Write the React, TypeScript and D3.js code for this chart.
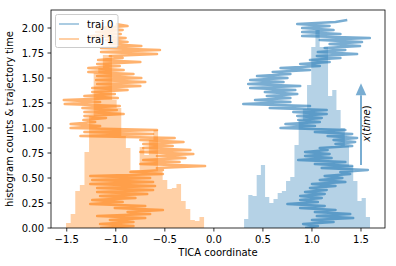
import React from 'react';
import * as d3 from 'd3';

const W = 396;
const H = 266;
const PLOT = { left: 51, right: 385, top: 10, bottom: 228 };
const X_DOMAIN = [-1.6606, 1.7447];
const Y_DOMAIN = [0, 2.18];

const xTicks = [-1.5, -1.0, -0.5, 0.0, 0.5, 1.0, 1.5];
const yTicks = [0, 0.25, 0.5, 0.75, 1.0, 1.25, 1.5, 1.75, 2.0];

// histogram of traj 0 (30 bins)
const hist0Range = [0.308, 1.592];
const hist0Counts = [
  0.09, 0.33, 0.32, 0.53, 0.63, 0.31, 0.25, 0.29, 0.35, 0.37,
  0.47, 0.51, 0.83, 1.08, 1.19, 1.43, 1.81, 1.98, 1.81, 1.81,
  1.32, 1.38, 1.18, 1.0, 0.82, 0.62, 0.47, 0.27, 0.3, 0.11,
];

// histogram of traj 1 (30 bins)
const hist1Range = [-1.507, -0.1];
const hist1Counts = [
  0.05, 0.14, 0.37, 0.43, 0.76, 1.12, 1.55, 1.6, 1.73, 1.73,
  1.28, 1.2, 0.92, 0.8, 0.58, 0.58, 0.81, 0.73, 0.88, 0.98,
  0.57, 0.48, 0.39, 0.4, 0.44, 0.27, 0.19, 0.08, 0.07, 0.11,
];

const trajDt = 0.02;
const traj0 = [
  0.93, 1.06, 0.91, 1.22, 1.0, 1.42, 1.05, 1.39, 1.03, 1.24,
  0.88, 1.13, 0.75, 1.06, 0.88, 1.1, 0.88, 1.13, 0.93, 1.15,
  0.98, 1.24, 1.0, 1.34, 1.08, 1.31, 1.13, 1.39, 1.29, 1.57,
  1.1, 1.41, 1.03, 1.34, 0.86, 1.2, 0.93, 1.18, 0.93, 1.16,
  1.08, 1.41, 1.24, 1.44, 1.22, 1.46, 1.16, 1.41, 1.03, 1.34,
  0.68, 1.03, 0.73, 1.08, 0.86, 1.1, 0.85, 1.15, 0.81, 1.15,
  0.57, 0.98, 0.3, 0.78, 0.42, 0.78, 0.54, 0.85, 0.52, 0.83,
  0.37, 0.88, 0.35, 0.71, 0.37, 0.75, 0.44, 0.78, 0.6, 0.98,
  0.68, 1.08, 0.88, 1.18, 0.98, 1.29, 1.05, 1.46, 1.06, 1.34,
  1.13, 1.49, 1.18, 1.51, 1.08, 1.59, 0.9, 1.29, 0.9, 1.22,
  0.9, 1.18, 0.85, 1.24, 1.36,
];
const traj1 = [
  -1.16, -0.82, -1.16, -0.82, -1.06, -0.7, -1.19, -0.65, -0.88, -0.52,
  -1.01, -0.7, -1.26, -0.93, -1.24, -0.8, -1.16, -0.68, -1.19, -0.62,
  -1.19, -0.6, -1.26, -0.62, -1.24, -0.65, -1.26, -0.52, -0.85, -0.52,
  -0.58, -0.09, -0.75, -0.35, -0.72, -0.29, -0.58, -0.21, -0.75, -0.24,
  -0.72, -0.42, -0.72, -0.31, -0.75, -0.4, -1.36, -0.62, -1.32, -0.58,
  -1.46, -1.16, -1.46, -1.21, -1.33, -1.1, -1.32, -0.92, -1.32, -0.99,
  -1.34, -0.96, -1.52, -1.16, -1.53, -0.98, -1.32, -1.01, -1.24, -0.88,
  -1.24, -0.75, -1.19, -0.7, -1.2, -0.74, -1.19, -0.82, -1.28, -0.92,
  -1.28, -0.96, -1.19, -0.75, -1.18, -0.93, -1.06, -0.58, -1.15, -0.55,
  -1.15, -0.74, -1.06, -0.88, -1.1, -0.9, -1.25, -0.95, -1.2, -0.93,
  -1.19, -0.88, -1.0,
];

const legendLabels = ['traj 0', 'traj 1'];
const arrowX = 1.5;
const arrowFrom = 0.63;
const arrowTo = 1.447;

const C0 = '#1f77b4';
const C1 = '#ff7f0e';
const FONT = 'DejaVu Sans';

export default function App() {
  const x = d3.scaleLinear().domain(X_DOMAIN).range([PLOT.left, PLOT.right]);
  const y = d3.scaleLinear().domain(Y_DOMAIN).range([PLOT.bottom, PLOT.top]);

  const histPath = (range: number[], counts: number[]) => {
    const n = counts.length;
    const step = (range[1] - range[0]) / n;
    const pts = counts.map((c, i) => ({ e: range[0] + i * step, c }));
    pts.push({ e: range[1], c: counts[n - 1] });
    return d3
      .area<{ e: number; c: number }>()
      .curve(d3.curveStepAfter)
      .x((d) => x(d.e))
      .y0(y(0))
      .y1((d) => y(d.c))(pts) as string;
  };

  const trajPath = (vals: number[]) =>
    d3
      .line<number>()
      .x((d) => x(d))
      .y((_, i) => y(i * trajDt))(vals) as string;

  const fmtX = d3.format('.1f');
  const fmtY = d3.format('.2f');

  const ax = x(arrowX);
  const headLen = 12;
  const headHalf = 5.3;
  const tipY = y(arrowTo);
  const baseY = tipY + headLen;

  return (
    <svg
      width={W}
      height={H}
      style={{ position: 'absolute', left: 0, top: 0, background: '#fff' }}
      fontFamily={FONT}
    >
      <defs>
        <clipPath id="plotclip">
          <rect x={PLOT.left} y={PLOT.top} width={PLOT.right - PLOT.left} height={PLOT.bottom - PLOT.top} />
        </clipPath>
      </defs>
      <rect x={0} y={0} width={W} height={H} fill="#fff" />
      <g clipPath="url(#plotclip)">
        <path d={histPath(hist0Range, hist0Counts)} fill={C0} fillOpacity={0.33} />
        <path d={histPath(hist1Range, hist1Counts)} fill={C1} fillOpacity={0.37} />
        <path d={trajPath(traj0)} fill="none" stroke={C0} strokeOpacity={0.6} strokeWidth={2.6} strokeLinejoin="round" />
        <path d={trajPath(traj1)} fill="none" stroke={C1} strokeOpacity={0.6} strokeWidth={2.6} strokeLinejoin="round" />
        {/* arrow */}
        <g fill={C0} fillOpacity={0.6}>
          <rect x={ax - 1} y={baseY} width={2} height={y(arrowFrom) - baseY} />
          <path d={`M${ax - headHalf},${baseY}L${ax},${tipY}L${ax + headHalf},${baseY}Z`} />
        </g>
        <text
          transform={`translate(${ax + 9},${y(1.045)}) rotate(-90)`}
          textAnchor="middle"
          fontSize={10}
          fill="#000"
        >
          <tspan fontStyle="italic">x</tspan>
          <tspan>(</tspan>
          <tspan fontStyle="italic">time</tspan>
          <tspan>)</tspan>
        </text>
      </g>

      {/* frame */}
      <rect
        x={PLOT.left}
        y={PLOT.top}
        width={PLOT.right - PLOT.left}
        height={PLOT.bottom - PLOT.top}
        fill="none"
        stroke="#000"
        strokeWidth={0.8}
      />

      {/* x ticks */}
      {xTicks.map((t) => (
        <g key={'x' + t}>
          <line x1={x(t)} x2={x(t)} y1={PLOT.bottom} y2={PLOT.bottom + 3.5} stroke="#000" strokeWidth={0.8} />
          <text x={x(t)} y={PLOT.bottom + 15} textAnchor="middle" fontSize={10} fill="#000">
            {fmtX(t)}
          </text>
        </g>
      ))}
      {/* y ticks */}
      {yTicks.map((t) => (
        <g key={'y' + t}>
          <line x1={PLOT.left - 3.5} x2={PLOT.left} y1={y(t)} y2={y(t)} stroke="#000" strokeWidth={0.8} />
          <text x={PLOT.left - 7} y={y(t) + 3.6} textAnchor="end" fontSize={10} fill="#000">
            {fmtY(t)}
          </text>
        </g>
      ))}

      <text x={(PLOT.left + PLOT.right) / 2} y={256} textAnchor="middle" fontSize={10} fill="#000">
        TICA coordinate
      </text>
      <text
        transform={`translate(13,${(PLOT.top + PLOT.bottom) / 2}) rotate(-90)`}
        textAnchor="middle"
        fontSize={10}
        fill="#000"
      >
        {'histogram counts & trajectory time'}
      </text>

      {/* legend */}
      <g>
        <rect x={55.5} y={14.5} width={62.5} height={33} rx={2} ry={2} fill="#fff" fillOpacity={0.8} stroke="#ccc" strokeWidth={1} />
        {legendLabels.map((lab, i) => (
          <g key={lab}>
            <line
              x1={59}
              x2={79}
              y1={24 + i * 15}
              y2={24 + i * 15}
              stroke={i === 0 ? C0 : C1}
              strokeOpacity={0.5}
              strokeWidth={1.5}
            />
            <text x={87} y={27.6 + i * 15} fontSize={10} fill="#000">
              {lab}
            </text>
          </g>
        ))}
      </g>
    </svg>
  );
}
